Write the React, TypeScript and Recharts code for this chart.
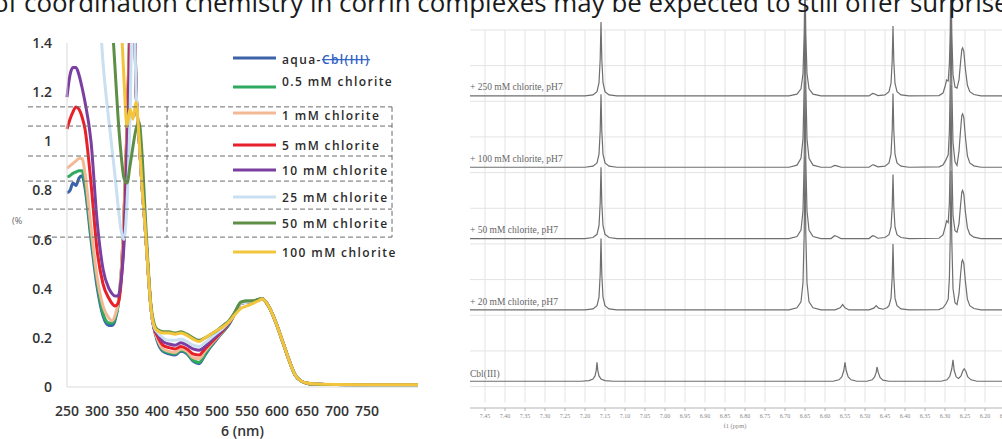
import React from "react";
import { LineChart, Line, XAxis, YAxis, ReferenceLine, Legend } from "recharts";

// ---------- UV-vis spectra (absorbance vs wavelength) ----------
const wavelengths = [
  250, 255, 260, 265, 270, 275, 280,
  290, 300, 310, 320,
  325, 330, 335, 340, 345, 350, 355, 360, 365, 370, 375, 380, 385, 390, 395, 400,
  410, 420, 430, 440, 450, 460, 470, 480, 490, 500, 510, 520,
  530, 540, 550, 560, 570, 575, 580, 590, 600, 610, 620, 630, 640, 650, 660, 680, 700, 750, 800, 835,
];

const aquaCbl = [
  0.79, 0.8, 0.83, 0.82, 0.85, 0.86, 0.81,
  0.6, 0.41, 0.29, 0.25,
  0.25, 0.27, 0.33, 0.45, 0.7, 1.05, 1.5, 1.9, 1.22, 1.02, 0.82, 0.66, 0.48, 0.32, 0.24, 0.19,
  0.145, 0.135, 0.13, 0.145, 0.135, 0.105, 0.095, 0.13, 0.165, 0.195, 0.225, 0.255,
  0.3, 0.34, 0.345, 0.35, 0.355, 0.36, 0.35, 0.31, 0.25, 0.18, 0.11, 0.05, 0.025, 0.015, 0.012, 0.01, 0.01, 0.008, 0.008, 0.008,
];
const chlorite05 = [
  0.855, 0.86, 0.87, 0.875, 0.88, 0.88, 0.83,
  0.62, 0.43, 0.3, 0.26,
  0.26, 0.28, 0.33, 0.45, 0.7, 1.05, 1.5, 1.9, 1.22, 1.02, 0.82, 0.66, 0.48, 0.32, 0.24, 0.2,
  0.15, 0.14, 0.135, 0.15, 0.14, 0.11, 0.1, 0.135, 0.17, 0.2, 0.225, 0.255,
  0.305, 0.345, 0.35, 0.35, 0.357, 0.36, 0.35, 0.31, 0.25, 0.18, 0.11, 0.05, 0.025, 0.015, 0.012, 0.01, 0.01, 0.008, 0.008, 0.008,
];
const chlorite1 = [
  0.89, 0.9, 0.91, 0.92, 0.93, 0.93, 0.87,
  0.65, 0.45, 0.33, 0.28,
  0.27, 0.29, 0.34, 0.46, 0.7, 1.05, 1.5, 1.9, 1.22, 1.02, 0.82, 0.66, 0.48, 0.32, 0.24, 0.2,
  0.155, 0.145, 0.14, 0.155, 0.145, 0.12, 0.115, 0.145, 0.175, 0.2, 0.23, 0.26,
  0.3, 0.34, 0.345, 0.35, 0.355, 0.36, 0.35, 0.31, 0.25, 0.18, 0.11, 0.05, 0.025, 0.015, 0.012, 0.01, 0.01, 0.008, 0.008, 0.008,
];
const chlorite5 = [
  1.05, 1.09, 1.12, 1.14, 1.13, 1.1, 1.05,
  0.83, 0.56, 0.42, 0.36,
  0.34, 0.33, 0.34, 0.42, 0.62, 1.0, 1.45, 1.9, 1.22, 1.02, 0.82, 0.66, 0.48, 0.32, 0.24, 0.21,
  0.17, 0.16, 0.155, 0.165, 0.155, 0.135, 0.13, 0.155, 0.18, 0.205, 0.23, 0.26,
  0.3, 0.34, 0.345, 0.35, 0.355, 0.36, 0.35, 0.31, 0.25, 0.18, 0.11, 0.05, 0.025, 0.015, 0.012, 0.01, 0.01, 0.008, 0.008, 0.008,
];
const chlorite10 = [
  1.18, 1.27, 1.3, 1.3, 1.27, 1.22, 1.16,
  1.0, 0.68, 0.48, 0.4,
  0.38, 0.37, 0.37, 0.43, 0.58, 0.9, 1.3, 1.8, 1.22, 1.02, 0.82, 0.66, 0.48, 0.32, 0.24, 0.22,
  0.185, 0.175, 0.17, 0.18, 0.17, 0.155, 0.15, 0.165, 0.19, 0.21, 0.235, 0.26,
  0.3, 0.34, 0.345, 0.35, 0.355, 0.36, 0.35, 0.31, 0.25, 0.18, 0.11, 0.05, 0.025, 0.015, 0.012, 0.01, 0.01, 0.008, 0.008, 0.008,
];
const chlorite25 = [
  2.0, 2.0, 2.0, 2.0, 2.0, 2.0, 2.0,
  2.0, 1.7, 1.32, 1.08,
  0.97, 0.86, 0.74, 0.64, 0.6, 0.75, 1.1, 1.7, 1.22, 1.02, 0.82, 0.66, 0.48, 0.32, 0.245, 0.225,
  0.2, 0.19, 0.19, 0.195, 0.185, 0.17, 0.165, 0.18, 0.2, 0.22, 0.24, 0.265,
  0.3, 0.34, 0.345, 0.35, 0.355, 0.36, 0.35, 0.31, 0.25, 0.18, 0.11, 0.05, 0.025, 0.015, 0.012, 0.01, 0.01, 0.008, 0.008, 0.008,
];
const chlorite50 = [
  2.0, 2.0, 2.0, 2.0, 2.0, 2.0, 2.0,
  2.0, 2.0, 1.9, 1.7,
  1.5, 1.3, 1.1, 0.95, 0.85, 0.83, 0.9, 0.98, 1.05, 1.08, 0.95, 0.72, 0.5, 0.33, 0.26, 0.235,
  0.225, 0.225, 0.22, 0.225, 0.215, 0.2, 0.19, 0.2, 0.215, 0.23, 0.25, 0.27,
  0.305, 0.345, 0.35, 0.35, 0.357, 0.36, 0.35, 0.31, 0.25, 0.18, 0.11, 0.05, 0.025, 0.015, 0.012, 0.01, 0.01, 0.008, 0.008, 0.008,
];
const chlorite100 = [
  2.0, 2.0, 2.0, 2.0, 2.0, 2.0, 2.0,
  2.0, 2.0, 2.0, 2.0,
  1.9, 1.9, 1.8, 1.5, 1.25, 1.06, 1.13, 1.09, 1.16, 1.02, 0.82, 0.66, 0.48, 0.32, 0.25, 0.23,
  0.22, 0.22, 0.215, 0.22, 0.21, 0.195, 0.185, 0.2, 0.215, 0.23, 0.245, 0.265,
  0.295, 0.32, 0.33, 0.34, 0.352, 0.358, 0.35, 0.31, 0.25, 0.18, 0.11, 0.05, 0.025, 0.016, 0.013, 0.011, 0.01, 0.009, 0.009, 0.009,
];

const uvTicksX = [250, 300, 350, 400, 450, 500, 550, 600, 650, 700, 750];
const uvTicksY = [0, 0.2, 0.4, 0.6, 0.8, 1, 1.2, 1.4];

const uvSeries = [
  { key: "aqua", name: "aqua-Cbl(III)", color: "#3d63a8", values: aquaCbl },
  { key: "c05", name: "0.5 mM chlorite", color: "#2faa5e", values: chlorite05 },
  { key: "c1", name: "1 mM chlorite", color: "#f3b995", values: chlorite1 },
  { key: "c5", name: "5 mM chlorite", color: "#e8202a", values: chlorite5 },
  { key: "c10", name: "10 mM chlorite", color: "#7a3fa0", values: chlorite10 },
  { key: "c25", name: "25 mM chlorite", color: "#c9dff2", values: chlorite25 },
  { key: "c50", name: "50 mM chlorite", color: "#5e8f46", values: chlorite50 },
  { key: "c100", name: "100 mM chlorite", color: "#f2c53d", values: chlorite100 },
];

// dashed frame drawn over the spectra (absorbance rows / wavelength columns)
const frameRows = [1.14, 1.062, 0.94, 0.838, 0.724, 0.61];
const frameCols = [416.7, 791.7];
const frameLeft = 185;

const uvData = wavelengths.map((nm, i) => {
  const row: Record<string, number> = { nm };
  uvSeries.forEach((s) => (row[s.key] = s.values[i]));
  return row;
});

// legend row placement (swatch y, text y) relative to the legend box
const legendRows = [
  [28, 29], [57, 51], [83, 85], [115, 115], [140, 140], [167, 167], [193, 193], [222, 222],
];

const UvLegend = () => (
  <svg width={200} height={235} style={{ display: "block", overflow: "visible" }}>
    {uvSeries.map((s, i) => {
      const [ly, ty] = legendRows[i];
      return (
        <g key={s.key}>
          <line x1={5} x2={48} y1={ly} y2={ly} stroke={s.color} strokeWidth={3} />
          <text
            x={54}
            y={ty}
            dominantBaseline="central"
            fontFamily="Open Sans"
            fontSize={12}
            fontWeight={600}
            letterSpacing={1.4}
            fill="#2b2b2b"
          >
            {s.key === "aqua" ? (
              <>
                <tspan>aqua-</tspan>
                <tspan fill="#2f5fc4" textDecoration="line-through">Cbl(III)</tspan>
              </>
            ) : (
              s.name
            )}
          </text>
        </g>
      );
    })}
  </svg>
);

const fmtAbs = (v: number) => (v === 0 || v === 1 ? String(v) : v.toFixed(1));

const UvChart = () => (
  <LineChart width={430} height={439} data={uvData} margin={{ top: 43, right: 12, bottom: 0, left: 0 }}>
    <XAxis
      dataKey="nm"
      type="number"
      domain={[250, 835]}
      ticks={uvTicksX}
      tickLine={false}
      tickSize={0}
      tickMargin={19}
      height={52}
      axisLine={{ stroke: "#d9d9d9" }}
      tick={{ fontSize: 14, fontWeight: 600, fill: "#333", fontFamily: "Open Sans" }}
      label={{
        value: "6 (nm)",
        position: "insideBottom",
        offset: 3,
        fontSize: 14,
        fontWeight: 600,
        fill: "#333",
        fontFamily: "Open Sans",
      }}
    />
    <YAxis
      type="number"
      domain={[0, 1.4]}
      allowDataOverflow
      ticks={uvTicksY}
      tickFormatter={fmtAbs}
      width={67}
      tickLine={false}
      tickSize={0}
      tickMargin={15}
      axisLine={{ stroke: "#d9d9d9" }}
      tick={{ fontSize: 14, fontWeight: 600, fill: "#333", fontFamily: "Open Sans" }}
    />
    {uvSeries.map((s) => (
      <Line
        key={s.key}
        dataKey={s.key}
        name={s.name}
        type="monotone"
        stroke={s.color}
        strokeWidth={3}
        dot={false}
        isAnimationActive={false}
      />
    ))}
    {frameRows.map((y) => (
      <ReferenceLine
        key={"r" + y}
        segment={[{ x: frameLeft, y }, { x: frameCols[1], y }]}
        ifOverflow="visible"
        stroke="#6b6b6b"
        strokeDasharray="5 3"
      />
    ))}
    {frameCols.map((x) => (
      <ReferenceLine
        key={"c" + x}
        segment={[{ x, y: frameRows[0] }, { x, y: frameRows[frameRows.length - 1] }]}
        ifOverflow="visible"
        stroke="#6b6b6b"
        strokeDasharray="5 3"
      />
    ))}
    <Legend
      layout="vertical"
      align="center"
      verticalAlign="middle"
      content={() => <UvLegend />}
      wrapperStyle={{ left: 228, top: 30, width: 200, height: 235 }}
    />
  </LineChart>
);

// ---------- 1H NMR stack (aromatic region) ----------
const ppmTicks = [
  7.45, 7.4, 7.35, 7.3, 7.25, 7.2, 7.15, 7.1, 7.05, 7.0, 6.95, 6.9, 6.85, 6.8,
  6.75, 6.7, 6.65, 6.6, 6.55, 6.5, 6.45, 6.4, 6.35, 6.3, 6.25, 6.2, 6.15,
];
const gridLevels = [0, 1, 2, 3, 4, 5, 6, 7, 8, 9, 10];

const nmr250 = [
  [7.49, 0], [7.2, 0], [7.18, 0.03], [7.17, 0.12], [7.165, 0.37], [7.162, 1.03], [7.16, 2.07], [7.158, 1.03], [7.155, 0.37], [7.15, 0.12], [7.14, 0.03], [7.12, 0],
  [6.69, 0], [6.67, 0.05], [6.66, 0.2], [6.655, 0.63], [6.652, 1.75], [6.65, 3.5], [6.648, 1.75], [6.645, 0.63], [6.64, 0.2], [6.63, 0.05], [6.61, 0],
  [6.49, 0], [6.481, 0.07], [6.477, 0.06], [6.468, 0.01],
  [6.45, 0.03], [6.44, 0.12], [6.435, 0.35], [6.432, 0.98], [6.43, 1.96], [6.428, 0.98], [6.425, 0.35], [6.42, 0.12], [6.41, 0.03], [6.39, 0],
  [6.315, 0.01], [6.305, 0.08], [6.299, 0.3], [6.296, 0.45], [6.292, 0.42], [6.289, 0.9], [6.287, 1.75], [6.285, 3.5], [6.283, 1.75], [6.28, 0.6], [6.275, 0.25], [6.27, 0.22],
  [6.265, 0.45], [6.261, 0.95], [6.258, 1.3], [6.256, 1.35], [6.253, 1.25], [6.249, 0.75], [6.244, 0.3], [6.238, 0.12], [6.228, 0.04], [6.21, 0], [6.08, 0],
];
const nmr100 = [
  [7.49, 0], [7.2, 0], [7.18, 0.03], [7.17, 0.12], [7.165, 0.37], [7.162, 1.02], [7.16, 2.05], [7.158, 1.02], [7.155, 0.37], [7.15, 0.12], [7.14, 0.03], [7.12, 0],
  [6.69, 0], [6.67, 0.06], [6.66, 0.25], [6.655, 0.8], [6.652, 2.3], [6.65, 4.6], [6.648, 2.3], [6.645, 0.8], [6.64, 0.25], [6.63, 0.06], [6.61, 0],
  [6.585, 0], [6.576, 0.05], [6.57, 0.04], [6.56, 0],
  [6.49, 0], [6.481, 0.07], [6.477, 0.06], [6.468, 0.01],
  [6.45, 0.03], [6.44, 0.12], [6.435, 0.37], [6.432, 1.04], [6.43, 2.07], [6.428, 1.04], [6.425, 0.37], [6.42, 0.12], [6.41, 0.03], [6.39, 0],
  [6.315, 0.01], [6.305, 0.06], [6.298, 0.2], [6.292, 0.35], [6.289, 1.0], [6.287, 2.3], [6.285, 4.6], [6.283, 2.3], [6.28, 0.7], [6.275, 0.15], [6.27, 0.05],
  [6.265, 0.45], [6.261, 1.05], [6.258, 1.45], [6.256, 1.5], [6.253, 1.4], [6.249, 0.85], [6.244, 0.32], [6.238, 0.12], [6.228, 0.04], [6.21, 0], [6.08, 0],
];
const nmr50 = [
  [7.49, 0], [7.2, 0], [7.18, 0.03], [7.17, 0.12], [7.165, 0.36], [7.162, 1.0], [7.16, 2.0], [7.158, 1.0], [7.155, 0.36], [7.15, 0.12], [7.14, 0.03], [7.12, 0],
  [6.69, 0], [6.67, 0.06], [6.66, 0.24], [6.655, 0.78], [6.652, 2.2], [6.65, 4.4], [6.648, 2.2], [6.645, 0.78], [6.64, 0.24], [6.63, 0.06], [6.61, 0],
  [6.585, 0], [6.576, 0.08], [6.57, 0.06], [6.56, 0],
  [6.49, 0], [6.481, 0.08], [6.477, 0.07], [6.468, 0.01],
  [6.45, 0.03], [6.44, 0.11], [6.435, 0.32], [6.432, 0.9], [6.43, 1.8], [6.428, 0.9], [6.425, 0.32], [6.42, 0.11], [6.41, 0.03], [6.39, 0],
  [6.315, 0.01], [6.305, 0.1], [6.299, 0.35], [6.296, 0.5], [6.292, 0.45], [6.289, 1.0], [6.287, 2.15], [6.285, 4.3], [6.283, 2.15], [6.28, 0.65], [6.275, 0.22], [6.27, 0.18],
  [6.265, 0.42], [6.261, 0.95], [6.258, 1.3], [6.256, 1.35], [6.253, 1.25], [6.249, 0.75], [6.244, 0.3], [6.238, 0.12], [6.228, 0.04], [6.21, 0], [6.08, 0],
];
const nmr20 = [
  [7.49, 0], [7.2, 0], [7.18, 0.03], [7.17, 0.12], [7.165, 0.36], [7.162, 1.0], [7.16, 2.0], [7.158, 1.0], [7.155, 0.36], [7.15, 0.12], [7.14, 0.03], [7.12, 0],
  [6.69, 0], [6.67, 0.06], [6.66, 0.23], [6.655, 0.76], [6.652, 2.15], [6.65, 4.3], [6.648, 2.15], [6.645, 0.76], [6.64, 0.23], [6.63, 0.06], [6.61, 0],
  [6.575, 0], [6.562, 0.06], [6.556, 0.15], [6.55, 0.06], [6.54, 0],
  [6.49, 0], [6.478, 0.05], [6.472, 0.12], [6.466, 0.05], [6.455, 0.02],
  [6.445, 0.06], [6.44, 0.12], [6.435, 0.33], [6.432, 0.92], [6.43, 1.85], [6.428, 0.92], [6.425, 0.33], [6.42, 0.12], [6.41, 0.03], [6.39, 0],
  [6.315, 0.01], [6.305, 0.06], [6.297, 0.18], [6.292, 0.3], [6.289, 0.9], [6.287, 1.95], [6.285, 3.9], [6.283, 1.95], [6.28, 0.6], [6.275, 0.2], [6.27, 0.15],
  [6.265, 0.45], [6.261, 1.0], [6.258, 1.35], [6.256, 1.4], [6.253, 1.3], [6.249, 0.8], [6.244, 0.3], [6.238, 0.12], [6.228, 0.04], [6.21, 0], [6.08, 0],
];
const nmrCbl = [
  [7.49, 0], [7.21, 0], [7.19, 0.02], [7.18, 0.06], [7.175, 0.15], [7.172, 0.3], [7.17, 0.53], [7.168, 0.3], [7.165, 0.15], [7.16, 0.06], [7.15, 0.02], [7.13, 0],
  [6.58, 0], [6.565, 0.04], [6.558, 0.12], [6.553, 0.3], [6.55, 0.53], [6.547, 0.3], [6.542, 0.12], [6.535, 0.04], [6.52, 0],
  [6.495, 0], [6.482, 0.04], [6.476, 0.12], [6.472, 0.25], [6.47, 0.4], [6.467, 0.25], [6.462, 0.1], [6.455, 0.03], [6.44, 0],
  [6.31, 0], [6.295, 0.04], [6.288, 0.14], [6.283, 0.35], [6.28, 0.6], [6.277, 0.3], [6.272, 0.12], [6.266, 0.08],
  [6.26, 0.15], [6.255, 0.3], [6.252, 0.35], [6.248, 0.28], [6.243, 0.12], [6.235, 0.04], [6.22, 0], [6.08, 0],
];

const nmrTraces = [
  { label: "+ 250 mM chlorite, pH7", points: nmr250 },
  { label: "+ 100 mM chlorite, pH7", points: nmr100 },
  { label: "+ 50 mM chlorite, pH7", points: nmr50 },
  { label: "+ 20 mM chlorite, pH7", points: nmr20 },
  { label: "Cbl(III)", points: nmrCbl },
];

// vertical stacking: each spectrum sits two grid rows above the one below it
const STACK_STEP = 2;
const STACK_BASE = 0.15;

const NmrChart = () => (
  <LineChart width={580} height={439} margin={{ top: 0, right: 10, bottom: 0, left: 10 }}>
    <XAxis
      dataKey="ppm"
      type="number"
      domain={[6.0875, 7.4875]}
      allowDataOverflow
      reversed
      ticks={ppmTicks}
      tickFormatter={(v: number) => v.toFixed(2)}
      height={31}
      tickSize={3}
      tickMargin={3}
      axisLine={{ stroke: "#b5b5b5" }}
      tickLine={{ stroke: "#b5b5b5" }}
      tick={{ fontSize: 6, fill: "#888", fontFamily: "Liberation Serif" }}
    />
    <YAxis type="number" domain={[-0.6, 10.84]} allowDataOverflow hide />
    {gridLevels.map((g) => (
      <ReferenceLine key={"h" + g} y={g} stroke="#e3e3e3" strokeWidth={1} />
    ))}
    {ppmTicks.map((t) => (
      <ReferenceLine
        key={"v" + t}
        segment={[{ x: t, y: -0.45 }, { x: t, y: 10 }]}
        stroke="#e3e3e3"
        strokeWidth={1}
      />
    ))}
    {nmrTraces.map((tr, i) => {
      const offset = STACK_BASE + STACK_STEP * (nmrTraces.length - 1 - i);
      const data = tr.points.map(([ppm, v]) => ({ ppm, v: v + offset }));
      return (
        <Line
          key={tr.label}
          data={data}
          dataKey="v"
          name={tr.label}
          type="linear"
          stroke="#6f6f6f"
          strokeWidth={1.2}
          dot={false}
          isAnimationActive={false}
        />
      );
    })}
  </LineChart>
);

const traceLabelY = [90, 162, 233, 305, 377];

export default function App() {
  return (
    <div
      style={{
        position: "fixed",
        left: 0,
        top: 0,
        width: 1002,
        height: 439,
        overflow: "hidden",
        background: "#fff",
      }}
    >
      <div style={{ position: "absolute", left: 0, top: 0 }}>
        <UvChart />
      </div>
      <div style={{ position: "absolute", left: 460, top: 0 }}>
        <NmrChart />
      </div>
      <svg
        width={1002}
        height={439}
        style={{ position: "absolute", left: 0, top: 0, pointerEvents: "none" }}
      >
        <text x={-7} y={12} fontFamily="Open Sans" fontSize={25.9} fill="#1a1a1a">
          of coordination chemistry in corrin complexes may be expected to still offer surprises
        </text>
        <text x={12} y={224} fontFamily="Open Sans" fontSize={9} fill="#666">
          (%
        </text>
        {nmrTraces.map((tr, i) => (
          <text
            key={tr.label}
            x={470}
            y={traceLabelY[i]}
            fontFamily="Liberation Serif"
            fontSize={9.5}
            fill="#666"
          >
            {tr.label}
          </text>
        ))}
        <text x={735} y={428} textAnchor="middle" fontFamily="Liberation Serif" fontSize={6.5} fill="#888">
          f1 (ppm)
        </text>
      </svg>
    </div>
  );
}
